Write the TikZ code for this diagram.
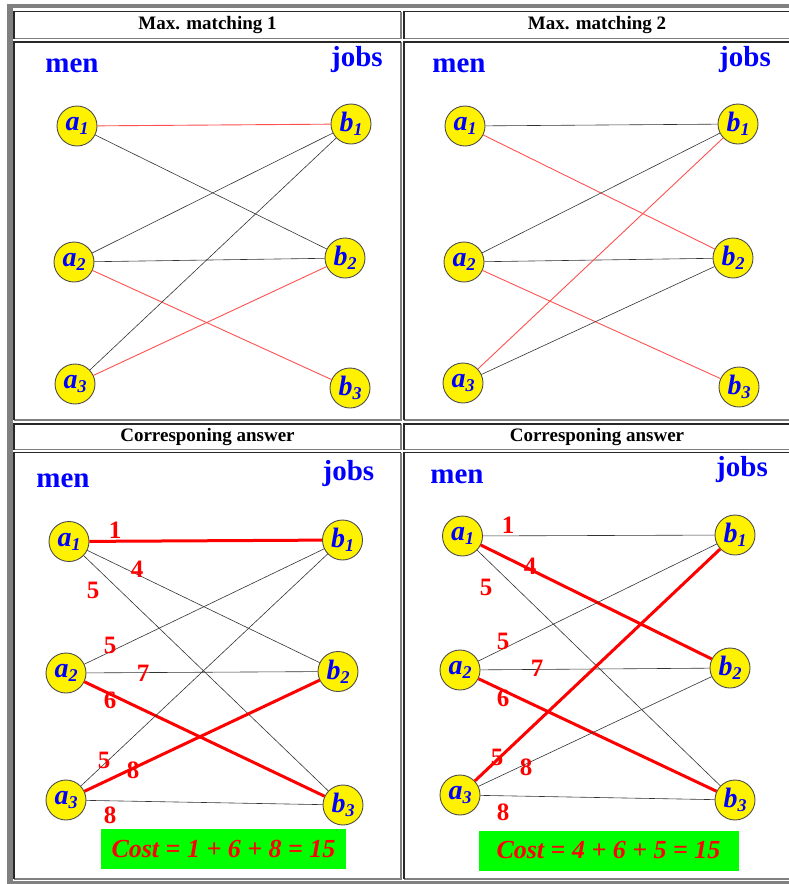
\documentclass[tikz,border=0pt]{standalone}
\usepackage{fontspec}
\setmainfont{Liberation Serif}
\usetikzlibrary{positioning}

\definecolor{cellgray}{RGB}{128,128,128}
\definecolor{celldarkgray}{RGB}{40,40,40}
\definecolor{costgreen}{RGB}{0,255,0}
\definecolor{pickred}{RGB}{255,80,80}

% subscripted vertex label
\newcommand{\vtx}[2]{#1\raisebox{-0.3ex}{\fontsize{18}{18}\selectfont #2}}
% table cell with inset border
\newcommand{\tablecell}[4]{%
  \draw[cellshade] (#1,#4) -- (#3,#4) -- (#3,#2);
  \draw[celldark] (#1,#4) -- (#1,#2) -- (#3,#2);}

\begin{document}
\begin{tikzpicture}[
    x=1pt, y=-1pt,
    every node/.style={inner sep=0pt},
    cellshade/.style={draw=cellgray, line width=1.5pt},
    celldark/.style={draw=celldarkgray, line width=1.5pt},
    head/.style={font=\bfseries\fontsize{19}{20}\selectfont},
    sidelabel/.style={text=blue, font=\bfseries\fontsize{29}{30}\selectfont},
    vertex/.style={circle, draw=black!70, line width=0.9pt, fill=yellow, minimum size=40pt, text=blue, font=\bfseries\itshape\fontsize{28}{28}\selectfont},
    wlabel/.style={text=red, font=\bfseries\fontsize{25}{25}\selectfont},
    costbox/.style={fill=costgreen, text=red, minimum height=40pt, font=\bfseries\itshape\fontsize{26}{26}\selectfont},
    link/.style={draw=black!80, line width=0.6pt},
    picked/.style={draw=pickred, line width=0.9pt},
    matched/.style={draw=red, line width=3pt}
]
\useasboundingbox (0,0) rectangle (788,884);

% TABLE
\fill[cellgray] (7,4) rectangle (792,8);
\fill[cellgray] (7,4) rectangle (13,884);
\fill[cellgray] (7,880.5) rectangle (792,884);
\tablecell{14}{11.5}{401}{38.5}
\tablecell{14}{42}{401}{420}
\tablecell{404}{11.5}{792}{38.5}
\tablecell{404}{42}{792}{420}
\tablecell{14}{424}{401}{449.5}
\tablecell{14}{452.5}{401}{879}
\tablecell{404}{424}{792}{449.5}
\tablecell{404}{452.5}{792}{879}

\node[head] (tlhead) at (207.5,25) {Max. matching 1};
\node[head] (trhead) at (597,25) {Max. matching 2};
\node[head] (blhead) at (207.5,437) {Corresponing answer};
\node[head] (brhead) at (597,437) {Corresponing answer};

% MAX. MATCHING 1
\node[sidelabel] (tlmen) at (72,66) {men};
\node[sidelabel] (tljobs) at (357,60) {jobs};
\node[vertex] (tla1) at (77,126) {\vtx{a}{1}};
\node[vertex] (tla2) at (74,262) {\vtx{a}{2}};
\node[vertex] (tla3) at (75,384) {\vtx{a}{3}};
\node[vertex] (tlb1) at (351,124) {\vtx{b}{1}};
\node[vertex] (tlb2) at (345,258) {\vtx{b}{2}};
\node[vertex] (tlb3) at (350,388) {\vtx{b}{3}};

\draw[picked] (tla1) -- (tlb1);
\draw[link] (tla1) -- (tlb2);
\draw[link] (tla2) -- (tlb1);
\draw[link] (tla2) -- (tlb2);
\draw[picked] (tla2) -- (tlb3);
\draw[link] (tla3) -- (tlb1);
\draw[picked] (tla3) -- (tlb2);

% MAX. MATCHING 2
\node[sidelabel] (trmen) at (459,66) {men};
\node[sidelabel] (trjobs) at (745,60) {jobs};
\node[vertex] (tra1) at (465,126) {\vtx{a}{1}};
\node[vertex] (tra2) at (464,262) {\vtx{a}{2}};
\node[vertex] (tra3) at (463,383) {\vtx{a}{3}};
\node[vertex] (trb1) at (738,124) {\vtx{b}{1}};
\node[vertex] (trb2) at (733,258) {\vtx{b}{2}};
\node[vertex] (trb3) at (739,387) {\vtx{b}{3}};

\draw[link] (tra1) -- (trb1);
\draw[picked] (tra1) -- (trb2);
\draw[link] (tra2) -- (trb1);
\draw[link] (tra2) -- (trb2);
\draw[picked] (tra2) -- (trb3);
\draw[picked] (tra3) -- (trb1);
\draw[link] (tra3) -- (trb2);

% ANSWER 1
\node[sidelabel] (blmen) at (63,481) {men};
\node[sidelabel] (bljobs) at (348.5,474) {jobs};
\node[vertex] (bla1) at (69,541.5) {\vtx{a}{1}};
\node[vertex] (bla2) at (66,673) {\vtx{a}{2}};
\node[vertex] (bla3) at (66,800) {\vtx{a}{3}};
\node[vertex] (blb1) at (342.5,540) {\vtx{b}{1}};
\node[vertex] (blb2) at (338,671.5) {\vtx{b}{2}};
\node[vertex] (blb3) at (343,805) {\vtx{b}{3}};

\draw[matched] (bla1) -- (blb1);
\draw[link] (bla1) -- (blb2);
\draw[link] (bla1) -- (blb3);
\draw[link] (bla2) -- (blb1);
\draw[link] (bla2) -- (blb2);
\draw[matched] (bla2) -- (blb3);
\draw[link] (bla3) -- (blb1);
\draw[matched] (bla3) -- (blb2);
\draw[link] (bla3) -- (blb3);

\node[wlabel] (blw11) at (115,530) {1};
\node[wlabel] (blw12) at (137,569) {4};
\node[wlabel] (blw13) at (93,590.5) {5};
\node[wlabel] (blw21) at (110,645) {5};
\node[wlabel] (blw22) at (143,673) {7};
\node[wlabel] (blw23) at (110,700) {6};
\node[wlabel] (blw31) at (104,760) {5};
\node[wlabel] (blw32) at (133,770) {8};
\node[wlabel] (blw33) at (110,815) {8};

\node[costbox, minimum width=245pt] (blcost) at (223.5,849) {Cost = 1 + 6 + 8 = 15};

% ANSWER 2
\node[sidelabel] (brmen) at (457,477) {men};
\node[sidelabel] (brjobs) at (742,470) {jobs};
\node[vertex] (bra1) at (462.5,536) {\vtx{a}{1}};
\node[vertex] (bra2) at (460,670) {\vtx{a}{2}};
\node[vertex] (bra3) at (460,795) {\vtx{a}{3}};
\node[vertex] (brb1) at (735,535) {\vtx{b}{1}};
\node[vertex] (brb2) at (730,668) {\vtx{b}{2}};
\node[vertex] (brb3) at (735,800) {\vtx{b}{3}};

\draw[link] (bra1) -- (brb1);
\draw[matched] (bra1) -- (brb2);
\draw[link] (bra1) -- (brb3);
\draw[link] (bra2) -- (brb1);
\draw[link] (bra2) -- (brb2);
\draw[matched] (bra2) -- (brb3);
\draw[matched] (bra3) -- (brb1);
\draw[link] (bra3) -- (brb2);
\draw[link] (bra3) -- (brb3);

\node[wlabel] (brw11) at (508,525) {1};
\node[wlabel] (brw12) at (530,566) {4};
\node[wlabel] (brw13) at (486,587) {5};
\node[wlabel] (brw21) at (503,641.5) {5};
\node[wlabel] (brw22) at (537,668) {7};
\node[wlabel] (brw23) at (503,698) {6};
\node[wlabel] (brw31) at (497,757) {5};
\node[wlabel] (brw32) at (526,767) {8};
\node[wlabel] (brw33) at (503,812) {8};

\node[costbox, minimum width=260pt] (brcost) at (608.5,850.5) {Cost = 4 + 6 + 5 = 15};

\end{tikzpicture}
\end{document}
